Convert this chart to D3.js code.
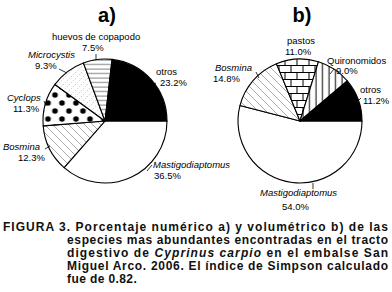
<!DOCTYPE html>
<html>
<head>
<meta charset="utf-8">
<script src="https://cdn.jsdelivr.net/npm/d3@7"></script>
<style>
  body { margin: 0; background: #fff; }
  svg { display: block; }
  text { font-family: "Liberation Sans", Arial, sans-serif; }
</style>
</head>
<body>
<div id="chart-area"></div>
<script>
// pie a) numerical percentage
const speciesA = ['Mastigodiaptomus', 'Bosmina', 'Cyclops', 'Microcystis', 'huevos de copapodo', 'otros'];
const valuesA = [36.5, 12.3, 11.3, 9.3, 7.5, 23.2];
// pie b) volumetric percentage
const speciesB = ['Mastigodiaptomus', 'Bosmina', 'pastos', 'Quironomidos', 'otros'];
const valuesB = [54.0, 14.8, 11.0, 9.0, 11.2];
const italicNames = ['Mastigodiaptomus', 'Bosmina', 'Cyclops', 'Microcystis'];

const captionLines = [
  [['FIGURA 3. Porcentaje numérico a) y volumétrico b) de las', false]],
  [['especies mas abundantes encontradas en el tracto', false]],
  [['digestivo de ', false], ['Cyprinus carpio', true], [' en el embalse San', false]],
  [['Miguel Arco. 2006. El índice de Simpson calculado', false]],
  [['fue de 0.82.', false]]
];

const width = 392;
const height = 292;
const radius = 62;

const svg = d3.select('#chart-area').append('svg')
  .attr('width', width)
  .attr('height', height);

const defs = svg.append('defs');

function linePattern(id, w, h, d, stroke, sw, extra) {
  const p = defs.append('pattern')
    .attr('id', id)
    .attr('patternUnits', 'userSpaceOnUse')
    .attr('width', w)
    .attr('height', h);
  p.append('rect').attr('width', w).attr('height', h).attr('fill', '#fff');
  const path = p.append('path')
    .attr('d', d)
    .attr('stroke', stroke)
    .attr('stroke-width', sw)
    .attr('fill', 'none');
  if (extra) extra(path, p);
  return p;
}

// diagonal "\" lines
linePattern('diag', 8, 8, 'M-1,-1 L9,9 M-9,-1 L1,9 M7,-1 L17,9', '#888', 0.7);
// fine dashed "/" lines
linePattern('dash', 6, 6, 'M0,6 L6,0 M-3,3 L3,-3 M3,9 L9,3', '#aaa', 0.6,
  path => path.attr('stroke-dasharray', '1.5,1.5'));
// horizontal lines
linePattern('horiz', 5, 4.5, 'M0,2 L5,2', '#555', 0.8);
// vertical lines
linePattern('vert', 6.5, 6, 'M3,0 L3,6', '#000', 1);
// bricks
linePattern('brick', 12, 14, 'M0,0.5 L12,0.5 M0,7.5 L12,7.5 M3,0 L3,7 M9,7 L9,14', '#000', 1);
// dots, staggered grid
const dots = defs.append('pattern')
  .attr('id', 'dots')
  .attr('patternUnits', 'userSpaceOnUse')
  .attr('width', 14)
  .attr('height', 16)
  .attr('x', -53.5)
  .attr('y', -30);
dots.append('rect').attr('width', 14).attr('height', 16).attr('fill', '#fff');
dots.append('circle').attr('cx', 3.5).attr('cy', 4).attr('r', 2.8).attr('fill', '#000');
dots.append('circle').attr('cx', 10.5).attr('cy', 12).attr('r', 2.8).attr('fill', '#000');

const fillsA = ['#fff', 'url(#diag)', 'url(#dots)', 'url(#dash)', 'url(#horiz)', '#000'];
const fillsB = ['#fff', 'url(#diag)', 'url(#brick)', 'url(#vert)', '#000'];

// label positions: [nameX, nameY, pctX, pctY, leader]
const layoutA = [
  [153, 168, 154, 179, [147, 171, 152, 165]],
  [3, 150, 18, 161, [45, 149, 50, 146]],
  [7, 101, 13, 112, [44, 101, 46, 106]],
  [28, 58, 35, 69, [59, 69, 67, 73]],
  [52, 40, 82, 51, [96, 54, 96, 60]],
  [156, 75, 160, 86, [156, 83, 152, 85]]
];
const layoutB = [
  [260, 196, 282, 210, [313, 183, 313, 189]],
  [215, 71, 213, 82, [256, 72, 259, 78]],
  [287, 44, 285, 55, null],
  [327, 64, 336, 74, [334, 69, 330, 74]],
  [360, 93, 363, 104, [361, 98, 357, 102]]
];

const pie = d3.pie()
  .sort(null)
  .startAngle(Math.PI / 2)
  .endAngle(Math.PI / 2 + 2 * Math.PI);

const arc = d3.arc().innerRadius(0).outerRadius(radius);

function drawPie(cx, cy, title, names, values, fills, layout) {
  const g = svg.append('g')
    .attr('transform', `translate(${cx}, ${cy})`);

  g.selectAll('path.slice')
    .data(pie(values))
    .enter().append('path')
      .attr('class', 'slice')
      .attr('d', arc)
      .attr('fill', (d, i) => fills[i])
      .attr('stroke', '#000')
      .attr('stroke-width', 1.1)
      .attr('stroke-linejoin', 'round');

  svg.append('text')
    .text(title)
      .attr('x', cx + 2)
      .attr('y', 22)
      .attr('font-size', '20px')
      .attr('font-weight', 'bold')
      .attr('text-anchor', 'middle');

  names.forEach((name, i) => {
    const l = layout[i];
    svg.append('text')
      .text(name)
        .attr('x', l[0])
        .attr('y', l[1])
        .attr('font-size', '9.5px')
        .attr('font-style', italicNames.includes(name) ? 'italic' : 'normal');
    svg.append('text')
      .text(d3.format('.1f')(values[i]) + '%')
        .attr('x', l[2])
        .attr('y', l[3])
        .attr('font-size', '9.5px');
    if (l[4]) {
      svg.append('line')
        .attr('x1', l[4][0]).attr('y1', l[4][1])
        .attr('x2', l[4][2]).attr('y2', l[4][3])
        .attr('stroke', '#000')
        .attr('stroke-width', 0.8);
    }
  });
}

drawPie(105, 121, 'a)', speciesA, valuesA, fillsA, layoutA);
drawPie(300, 121, 'b)', speciesB, valuesB, fillsB, layoutB);

// caption, justified lines
const capX = [3, 67, 67, 67, 67];
const capRight = 388;
captionLines.forEach((parts, i) => {
  const t = svg.append('text')
    .attr('x', capX[i])
    .attr('y', 231 + i * 13)
    .attr('font-size', '12px')
    .attr('font-weight', 'bold')
    .attr('fill', '#111');
  parts.forEach(p => {
    t.append('tspan')
      .text(p[0])
      .attr('font-style', p[1] ? 'italic' : 'normal');
  });
  if (i < captionLines.length - 1) {
    const natural = t.node().getComputedTextLength();
    const chars = parts.map(p => p[0]).join('').length;
    t.attr('letter-spacing', (capRight - capX[i] - natural) / (chars - 1));
  } else {
    t.attr('letter-spacing', 0.4);
  }
});
</script>
</body>
</html>
